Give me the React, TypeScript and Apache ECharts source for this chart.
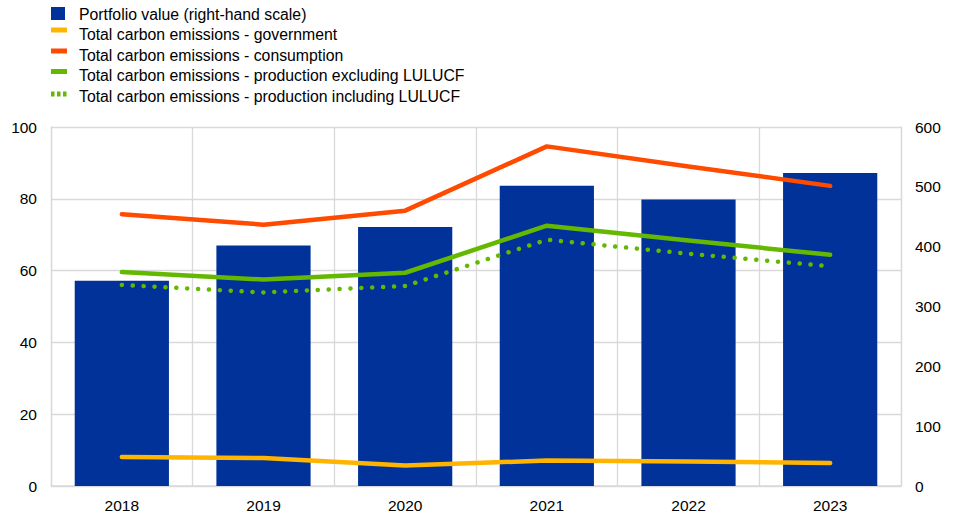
import React, { useEffect, useRef } from "react";
import * as echarts from "echarts";

const categories = ["2018", "2019", "2020", "2021", "2022", "2023"];
const portfolioValue = [343, 402, 433, 502, 479, 523];
const govEmissions = [8.1, 7.8, 5.7, 7.1, 6.8, 6.4];
const consumptionEmissions = [75.7, 72.8, 76.7, 94.6, 89.0, 83.6];
const productionExcl = [59.6, 57.5, 59.4, 72.5, 68.4, 64.4];
const productionIncl = [56.0, 53.9, 55.7, 68.6, 64.7, 61.2];
const legendLabels = [
  "Portfolio value (right-hand scale)",
  "Total carbon emissions - government",
  "Total carbon emissions - consumption",
  "Total carbon emissions - production excluding LULUCF",
  "Total carbon emissions - production including LULUCF",
];

const BLUE = "#003299";
const YELLOW = "#ffb400";
const ORANGE = "#ff4b00";
const GREEN = "#65b800";
const GRID = "#d9d9d9";
const FONT = "Liberation Sans, Arial, sans-serif";

export default function App() {
  const ref = useRef<HTMLDivElement>(null);
  useEffect(() => {
    if (!ref.current) return;
    const chart = echarts.init(ref.current, null, { renderer: "svg" });
    const textY = [14, 34.5, 55, 75.5, 96];
    const graphic: any[] = [];
    legendLabels.forEach((t, i) => {
      graphic.push({
        type: "text",
        x: 79,
        y: textY[i],
        style: { text: t, fill: "#000", font: `15.8px ${FONT}`, verticalAlign: "middle" },
      });
    });
    graphic.push({ type: "rect", shape: { x: 51, y: 7, width: 14, height: 13 }, style: { fill: BLUE } });
    graphic.push({ type: "rect", shape: { x: 51, y: 27.5, width: 16, height: 5 }, style: { fill: YELLOW } });
    graphic.push({ type: "rect", shape: { x: 51, y: 48.5, width: 16, height: 5 }, style: { fill: ORANGE } });
    graphic.push({ type: "rect", shape: { x: 51, y: 69, width: 16, height: 5 }, style: { fill: GREEN } });
    [51, 57, 63].forEach((x) =>
      graphic.push({ type: "rect", shape: { x, y: 91.5, width: 3.5, height: 5 }, style: { fill: GREEN } })
    );

    const lineBase = (name: string, data: number[], color: string, extra: any = {}) => ({
      name,
      type: "line",
      yAxisIndex: 0,
      data,
      symbol: "none",
      lineStyle: { color, width: 4.5, cap: "round", join: "round", ...extra },
      z: 3,
    });

    chart.setOption({
      animation: false,
      grid: { left: 51, right: 53, top: 127, bottom: 29, containLabel: false },
      graphic,
      xAxis: {
        type: "category",
        data: categories,
        boundaryGap: true,
        axisLine: { show: true, lineStyle: { color: GRID, width: 1.5 } },
        axisTick: { show: false },
        splitLine: { show: true, lineStyle: { color: GRID, width: 1.3 } },
        axisLabel: { color: "#000", fontSize: 15.5, fontFamily: FONT, margin: 11 },
      },
      yAxis: [
        {
          type: "value",
          min: 0,
          max: 100,
          interval: 20,
          axisLine: { show: true, lineStyle: { color: GRID, width: 1.3 } },
          axisTick: { show: false },
          splitLine: { show: true, lineStyle: { color: GRID, width: 1.3 } },
          axisLabel: { color: "#000", fontSize: 15.5, fontFamily: FONT, margin: 14 },
        },
        {
          type: "value",
          min: 0,
          max: 600,
          interval: 100,
          position: "right",
          axisLine: { show: true, lineStyle: { color: GRID, width: 1.3 } },
          axisTick: { show: false },
          splitLine: { show: false },
          axisLabel: { color: "#000", fontSize: 15.5, fontFamily: FONT, margin: 14 },
        },
      ],
      series: [
        {
          name: legendLabels[0],
          type: "bar",
          yAxisIndex: 1,
          data: portfolioValue,
          barCategoryGap: "33.5%",
          itemStyle: { color: BLUE },
          z: 2,
        },
        lineBase(legendLabels[1], govEmissions, YELLOW),
        lineBase(legendLabels[2], consumptionEmissions, ORANGE),
        lineBase(legendLabels[3], productionExcl, GREEN),
        lineBase(legendLabels[4], productionIncl, GREEN, { type: [0.1, 10.8], width: 4.5, cap: "round" }),
      ],
    });
    return () => chart.dispose();
  }, []);
  return <div ref={ref} style={{ width: 954, height: 515, position: "absolute", left: 0, top: 0 }} />;
}
